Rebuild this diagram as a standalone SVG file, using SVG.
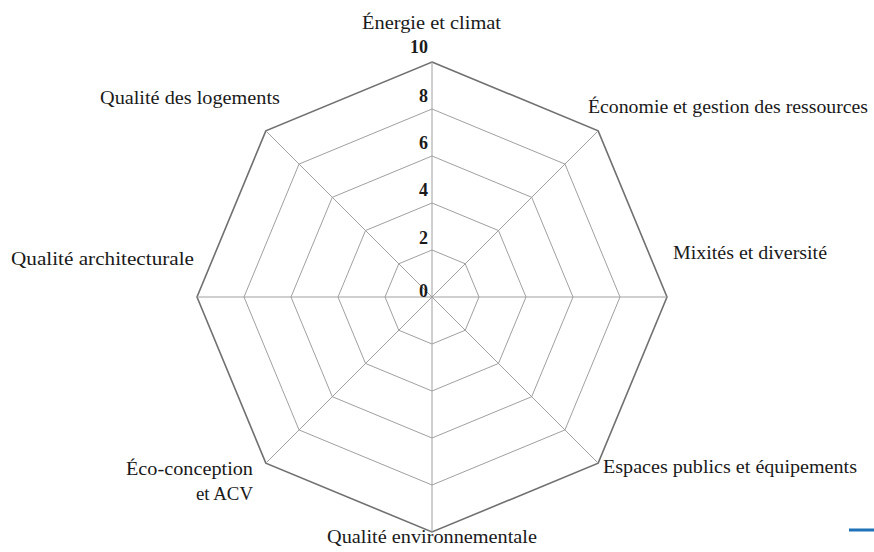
<svg xmlns="http://www.w3.org/2000/svg" width="874" height="552" viewBox="0 0 874 552">
<style>
.ring{fill:none;stroke:#a0a0a0;stroke-width:1}
.outer{fill:none;stroke:#707070;stroke-width:1.6}
.spoke{stroke:#a0a0a0;stroke-width:1}
.lbl{font-family:"Liberation Serif","DejaVu Serif",serif;font-size:19px;fill:#1a1a1a}
.num{font-family:"Liberation Serif","DejaVu Serif",serif;font-size:18px;font-weight:bold;fill:#1a1a1a;text-anchor:end}
</style>
<rect width="874" height="552" fill="#ffffff"/>
<g id="grid">
<polygon class="ring" points="432,250 465.23,263.77 479,297 465.23,330.23 432,344 398.77,330.23 385,297 398.77,263.77"/>
<polygon class="ring" points="432,203 498.47,230.53 526,297 498.47,363.47 432,391 365.53,363.47 338,297 365.53,230.53"/>
<polygon class="ring" points="432,156 531.7,197.3 573,297 531.7,396.7 432,438 332.3,396.7 291,297 332.3,197.3"/>
<polygon class="ring" points="432,109 564.94,164.06 620,297 564.94,429.94 432,485 299.06,429.94 244,297 299.06,164.06"/>
<polygon class="outer" points="432,62 598.17,130.83 667,297 598.17,463.17 432,532 265.83,463.17 197,297 265.83,130.83"/>
</g>
<g id="spokes">
<line class="spoke" x1="432" y1="297" x2="432" y2="62"/>
<line class="spoke" x1="432" y1="297" x2="598.17" y2="130.83"/>
<line class="spoke" x1="432" y1="297" x2="667" y2="297"/>
<line class="spoke" x1="432" y1="297" x2="598.17" y2="463.17"/>
<line class="spoke" x1="432" y1="297" x2="432" y2="532"/>
<line class="spoke" x1="432" y1="297" x2="265.83" y2="463.17"/>
<line class="spoke" x1="432" y1="297" x2="197" y2="297"/>
<line class="spoke" x1="432" y1="297" x2="265.83" y2="130.83"/>
</g>
<g id="scale">
<text class="num" x="428" y="53">10</text>
<text class="num" x="428" y="102">8</text>
<text class="num" x="428" y="149">6</text>
<text class="num" x="428" y="196">4</text>
<text class="num" x="428" y="244">2</text>
<text class="num" x="428" y="297">0</text>
</g>
<g id="axis-energie"><text class="lbl" x="362" y="29" textLength="139" lengthAdjust="spacingAndGlyphs">Énergie et climat</text></g>
<g id="axis-economie"><text class="lbl" x="588" y="113" textLength="280" lengthAdjust="spacingAndGlyphs">Économie et gestion des ressources</text></g>
<g id="axis-mixites"><text class="lbl" x="673" y="259" textLength="154" lengthAdjust="spacingAndGlyphs">Mixités et diversité</text></g>
<g id="axis-espaces"><text class="lbl" x="603" y="473" textLength="254" lengthAdjust="spacingAndGlyphs">Espaces publics et équipements</text></g>
<g id="axis-environnement"><text class="lbl" x="327" y="543" textLength="210" lengthAdjust="spacingAndGlyphs">Qualité environnementale</text></g>
<g id="axis-ecoconception">
<text class="lbl" x="126" y="475" textLength="127" lengthAdjust="spacingAndGlyphs">Éco-conception</text>
<text class="lbl" x="196" y="500" textLength="57" lengthAdjust="spacingAndGlyphs">et ACV</text>
</g>
<g id="axis-architecture"><text class="lbl" x="11" y="265" textLength="183" lengthAdjust="spacingAndGlyphs">Qualité architecturale</text></g>
<g id="axis-logements"><text class="lbl" x="100" y="104" textLength="180" lengthAdjust="spacingAndGlyphs">Qualité des logements</text></g>
<line x1="849" y1="530" x2="874" y2="530" stroke="#1f72b8" stroke-width="3"/>
</svg>
